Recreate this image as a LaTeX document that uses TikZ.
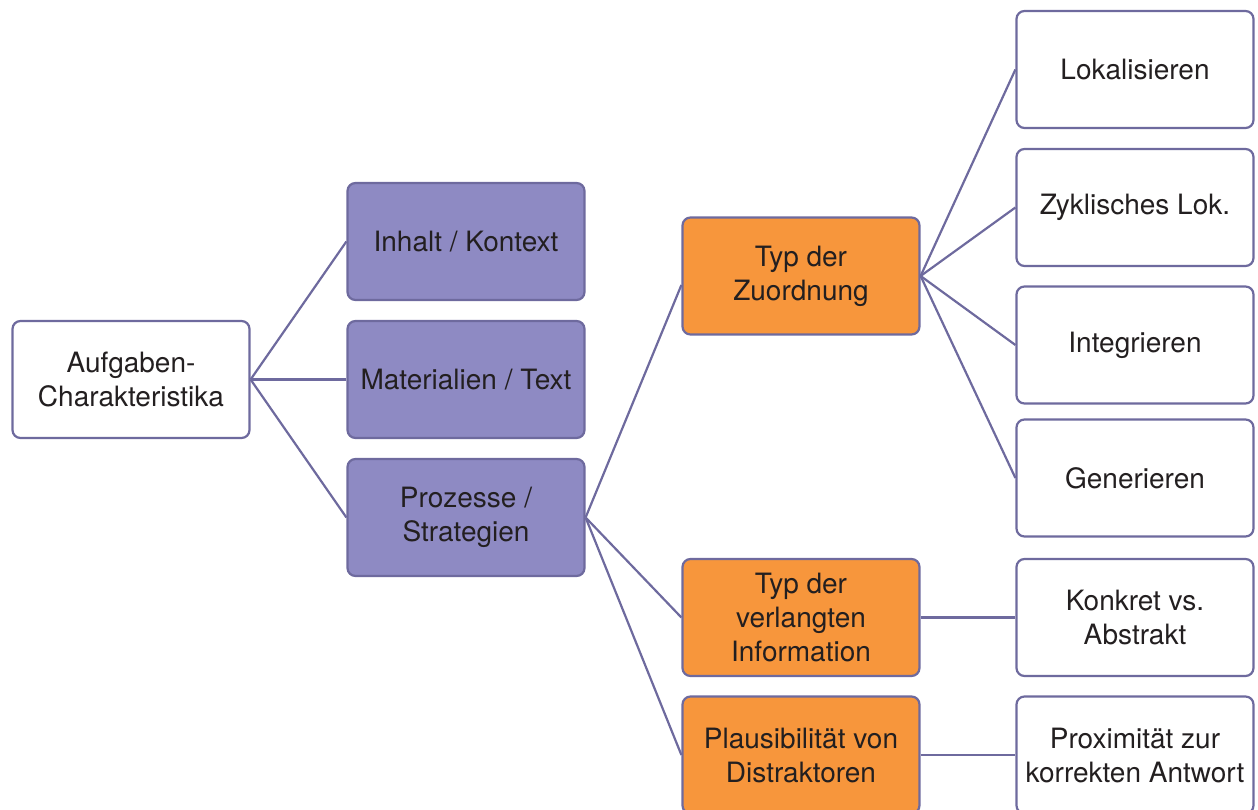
\documentclass[tikz,border=0pt]{standalone}
\usepackage{fontspec}
\setmainfont{TeX Gyre Heros}
\definecolor{edge}{HTML}{6E6A9E}
\definecolor{lila}{HTML}{8E8AC3}
\definecolor{orange}{HTML}{F7963C}
\definecolor{txt}{HTML}{231F20}
\begin{document}
\begin{tikzpicture}[x=1pt,y=-1pt,
  box/.style={draw=edge, line width=2.2pt, rounded corners=8pt, minimum width=237pt, minimum height=117pt,
    align=center, inner sep=0pt, text=txt, font=\fontsize{28}{34}\selectfont},
  wbox/.style={box, fill=white},
  pbox/.style={box, fill=lila},
  obox/.style={box, fill=orange},
  link/.style={draw=edge, line width=2.2pt}]
\useasboundingbox (0,0) rectangle (1258,810);
\clip (0,0) rectangle (1258,810);
\node[wbox] (A) at (131,379.5) {Aufgaben-\\Charakteristika};
\node[pbox] (B1) at (466,241.5) {Inhalt / Kontext};
\node[pbox] (B2) at (466,379.5) {Materialien / Text};
\node[pbox] (B3) at (466,517.5) {Prozesse /\\Strategien};
\node[obox] (C1) at (801,276) {Typ der\\Zuordnung};
\node[obox] (C2) at (801,617.5) {Typ der\\verlangten\\Information};
\node[obox] (C3) at (801,755) {Plausibilität von\\Distraktoren};
\node[wbox] (D1) at (1135,69.5) {Lokalisieren};
\node[wbox] (D2) at (1135,207.5) {Zyklisches Lok.};
\node[wbox] (D3) at (1135,345) {Integrieren};
\node[wbox] (D4) at (1135,478) {Generieren};
\node[wbox] (D5) at (1135,617.5) {Konkret vs.\\Abstrakt};
\node[wbox] (D6) at (1135,755) {Proximität zur\\korrekten Antwort};
\coordinate (C1in) at ([yshift=-9pt]C1.west);
\foreach \t in {B1,B2,B3} \draw[link] (A.east) -- (\t.west);
\draw[link] (B3.east) -- (C1in);
\foreach \t in {C2,C3} \draw[link] (B3.east) -- (\t.west);
\foreach \t in {D1,D2,D3,D4} \draw[link] (C1.east) -- (\t.west);
\draw[link] (C2.east) -- (D5.west);
\draw[link] (C3.east) -- (D6.west);
\end{tikzpicture}
\end{document}
